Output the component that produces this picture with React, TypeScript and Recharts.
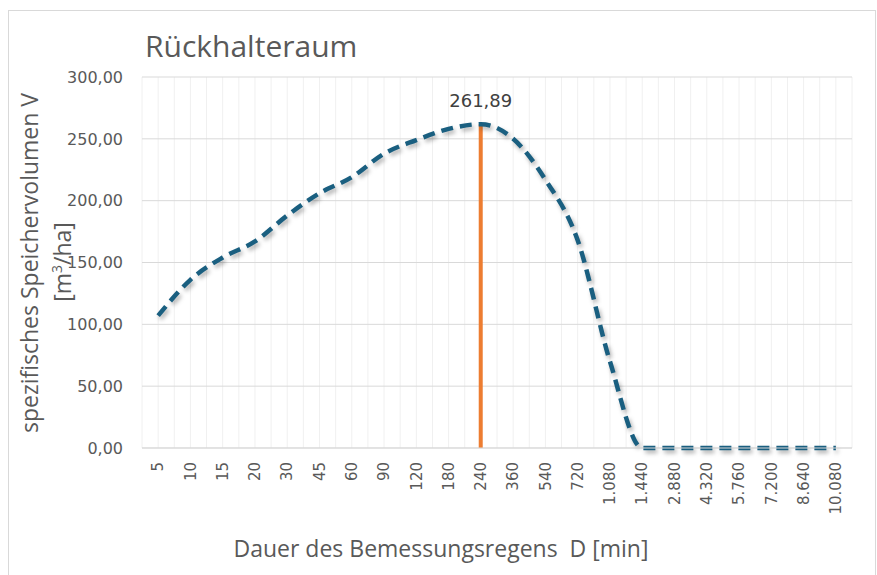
import React from "react";
import { ComposedChart, Line, Bar, XAxis, YAxis, CartesianGrid, LabelList } from "recharts";

// Dauer D [min]
const durations = ["5", "10", "15", "20", "30", "45", "60", "90", "120", "180", "240", "360", "540", "720", "1.080", "1.440", "2.880", "4.320", "5.760", "7.200", "8.640", "10.080"];
// spezifisches Speichervolumen [m³/ha]
const volumes = [107, 136, 154, 167, 188, 206, 219, 238, 249, 258, 261.89, 250, 217, 168, 70, 0, 0, 0, 0, 0, 0, 0];
const maxMarker = [null, null, null, null, null, null, null, null, null, null, 261.89, null, null, null, null, null, null, null, null, null, null, null];
const yTicks = [0, 50, 100, 150, 200, 250, 300];

const data = durations.map((d, i) => ({ d, v: volumes[i], m: maxMarker[i] }));

const fmt = (v: number) => v.toFixed(2).replace(".", ",");
const FONT = "'DejaVu Sans', sans-serif";
const TITLE_FONT = "'Open Sans', 'Noto Sans', sans-serif";

const XTick = (props: any) => {
  const { x, y, payload } = props;
  return (
    <text transform={`translate(${x},${y + 6}) rotate(-90)`} textAnchor="end" dy="0.35em" fontSize={15} fill="#595959" fontFamily={FONT}>
      {payload.value}
    </text>
  );
};

export default function App() {
  return (
    <div style={{ position: "absolute", left: 0, top: 0, width: 877, height: 575, background: "#fff" }}>
      <style>{`.vol-line path { filter: drop-shadow(2px 3px 2px rgba(0,0,0,0.3)); }`}</style>
      <div style={{ position: "absolute", left: 8, top: 10, width: 866, height: 580, border: "1px solid #d9d9d9" }} />
      <ComposedChart width={877} height={575} data={data} margin={{ top: 77, right: 25, bottom: 67, left: 82 }} barCategoryGap={0} style={{ position: "absolute", left: 0, top: 0 }}>
        <CartesianGrid
          stroke="#f0f0f0"
          horizontal={false}
          vertical={true}
          verticalCoordinatesGenerator={({ offset }: any) => {
            const n = durations.length * 2;
            return Array.from({ length: n + 1 }, (_, k) => offset.left + (offset.width * k) / n);
          }}
        />
        <CartesianGrid stroke="#d9d9d9" horizontal={true} vertical={false} />
        <XAxis dataKey="d" interval={0} tick={<XTick />} tickLine={false} axisLine={{ stroke: "#d9d9d9" }} height={60} />
        <YAxis domain={[0, 300]} ticks={yTicks} tickFormatter={fmt} axisLine={false} tickLine={false} tickMargin={13} width={60} tick={{ fontSize: 16, fill: "#595959", fontFamily: FONT }} />
        <Bar dataKey="m" fill="#ed7d31" barSize={4} isAnimationActive={false}>
          <LabelList dataKey="m" position="top" offset={17} formatter={(v: any) => (v == null ? "" : fmt(v))} style={{ fontSize: 18, fill: "#404040", fontFamily: FONT }} />
        </Bar>
        <Line className="vol-line" type="monotone" dataKey="v" stroke="#1a5f80" strokeWidth={4.5} strokeDasharray="12 7" dot={false} isAnimationActive={false} />
      </ComposedChart>
      <div style={{ position: "absolute", left: 0, top: 0, width: 877, height: 575, pointerEvents: "none" }}>
        <svg width={877} height={575}>
          <text x={145} y={57} fontSize={30} fill="#595959" fontFamily={TITLE_FONT}>
            Rückhalteraum
          </text>
          <text transform="translate(38,263) rotate(-90)" textAnchor="middle" fontSize={23} fill="#595959" fontFamily={TITLE_FONT}>
            spezifisches Speichervolumen V
          </text>
          <text transform="translate(71,262) rotate(-90)" textAnchor="middle" fontSize={23} fill="#595959" fontFamily={TITLE_FONT}>
            [m<tspan dy="-9" fontSize={14}>3</tspan><tspan dy="9">/ha]</tspan>
          </text>
          <text x={441} y={557} textAnchor="middle" fontSize={23} fill="#595959" fontFamily={TITLE_FONT} style={{ whiteSpace: "pre" }}>
            {"Dauer des Bemessungsregens  D [min]"}
          </text>
        </svg>
      </div>
    </div>
  );
}
